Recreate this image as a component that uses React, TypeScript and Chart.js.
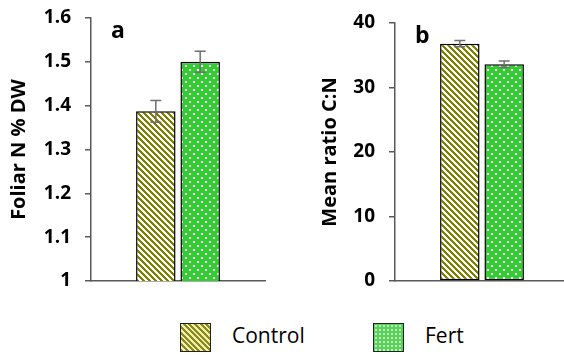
import React, { useEffect, useRef } from "react";
import { Chart, registerables } from "chart.js";

Chart.register(...registerables);

// ---- data ----
const seriesNames = ["Control", "Fert"];
const categoriesA = [""];
const foliarN = [1.387, 1.5];
const foliarNErr = [0.025, 0.024];
const cnRatio = [36.8, 33.6];
const cnRatioErr = [0.5, 0.5];
const yTicksA = [1, 1.1, 1.2, 1.3, 1.4, 1.5, 1.6];
const yTicksB = [0, 10, 20, 30, 40];

const OLIVE = "#7f7f00";
const GREEN = "#33cc33";
const AXIS = "#595959";
const FONT = "'Open Sans', 'DejaVu Sans', sans-serif";

function stripePattern(ctx: CanvasRenderingContext2D) {
  const t = document.createElement("canvas");
  t.width = 6;
  t.height = 6;
  const c = t.getContext("2d")!;
  c.fillStyle = "#ffffff";
  c.fillRect(0, 0, 6, 6);
  c.fillStyle = OLIVE;
  for (let x = 0; x < 6; x++)
    for (let y = 0; y < 6; y++) if ((x - y + 12) % 6 < 3) c.fillRect(x, y, 1, 1);
  return ctx.createPattern(t, "repeat")!;
}

function dotPattern(ctx: CanvasRenderingContext2D) {
  const t = document.createElement("canvas");
  t.width = 8;
  t.height = 8;
  const c = t.getContext("2d")!;
  c.fillStyle = GREEN;
  c.fillRect(0, 0, 8, 8);
  c.fillStyle = "#ffffff";
  c.fillRect(1, 1, 2, 2);
  c.fillRect(5, 5, 2, 2);
  return ctx.createPattern(t, "repeat")!;
}

type PanelProps = {
  values: number[];
  errs: number[];
  ticks: number[];
  title: string;
  label: string;
  left: number;
  width: number;
  padLeft: number;
  padTop: number;
  padRight: number;
  axisWidth: number;
  titlePad: number;
};

function Panel(p: PanelProps) {
  const ref = useRef<HTMLCanvasElement>(null);
  useEffect(() => {
    const canvas = ref.current!;
    const ctx = canvas.getContext("2d")!;
    const fills = [stripePattern(ctx), dotPattern(ctx)];
    const errPlugin = {
      id: "errbars",
      afterDatasetsDraw(chart: any) {
        const c = chart.ctx;
        const ys = chart.scales.y;
        c.save();
        c.strokeStyle = "#707070";
        c.lineWidth = 1.5;
        chart.data.datasets.forEach((ds: any, i: number) => {
          const meta = chart.getDatasetMeta(i);
          const bar = meta.data[0];
          const v = ds.data[0];
          const e = p.errs[i];
          const x = bar.x;
          const y1 = ys.getPixelForValue(v + e);
          const y2 = ys.getPixelForValue(v - e);
          c.beginPath();
          c.moveTo(x, y1);
          c.lineTo(x, y2);
          c.moveTo(x - 5.5, y1);
          c.lineTo(x + 5.5, y1);
          c.moveTo(x - 5.5, y2);
          c.lineTo(x + 5.5, y2);
          c.stroke();
        });
        c.restore();
      },
    };
    const labelPlugin = {
      id: "panelLabel",
      afterDraw(chart: any) {
        const c = chart.ctx;
        const a = chart.chartArea;
        c.save();
        c.fillStyle = "#000";
        c.font = `bold 23px ${FONT}`;
        c.textBaseline = "alphabetic";
        c.textAlign = "left";
        c.fillText(p.label, a.left + 20, a.top + 20);
        c.restore();
      },
    };
    const chart = new Chart(canvas, {
      type: "bar",
      data: {
        labels: categoriesA,
        datasets: seriesNames.map((n, i) => ({
          label: n,
          data: [p.values[i]],
          backgroundColor: fills[i] as any,
          borderColor: "#000",
          borderWidth: 1.5,
          borderSkipped: false,
          categoryPercentage: 0.51,
          barPercentage: 0.89,
        })),
      },
      options: {
        animation: false,
        responsive: false,
        maintainAspectRatio: false,
        events: [],
        layout: {
          padding: { left: p.padLeft, top: p.padTop, right: p.padRight, bottom: 19 },
        },
        plugins: { legend: { display: false }, tooltip: { enabled: false } },
        scales: {
          x: {
            grid: { display: false, drawTicks: false, tickLength: 0 },
            border: { display: true, color: AXIS, width: 1.5 },
            ticks: { display: false, padding: 0 },
            afterFit: (s: any) => {
              s.height = 0;
              s.paddingLeft = 0;
              s.paddingRight = 0;
            },
          },
          y: {
            min: p.ticks[0],
            max: p.ticks[p.ticks.length - 1],
            afterBuildTicks: (s: any) => {
              s.ticks = p.ticks.map((v) => ({ value: v }));
            },
            grid: {
              display: true,
              drawOnChartArea: false,
              drawTicks: true,
              tickLength: 6,
              color: AXIS,
              lineWidth: 1.5,
            },
            border: { display: true, color: AXIS, width: 1.5 },
            ticks: {
              padding: 14,
              color: "#000",
              font: { family: FONT, size: 19, weight: "bold" },
              callback: (v: any) => String(Math.round(Number(v) * 10) / 10),
            },
            title: {
              display: true,
              text: p.title,
              color: "#000",
              font: { family: FONT, size: 20, weight: "bold" },
              padding: { top: p.titlePad, bottom: 0 },
            },
            afterFit: (s: any) => {
              s.width = p.axisWidth;
              s.paddingTop = 0;
              s.paddingBottom = 0;
            },
          },
        },
      },
      plugins: [errPlugin, labelPlugin],
    });
    return () => chart.destroy();
  }, []);
  return (
    <canvas
      ref={ref}
      width={p.width}
      height={300}
      style={{ position: "absolute", left: p.left, top: 0, width: p.width, height: 300 }}
    />
  );
}

const legendText: React.CSSProperties = {
  position: "absolute",
  top: 320,
  fontFamily: FONT,
  fontSize: 21,
  lineHeight: "30px",
  color: "#000",
  whiteSpace: "nowrap",
};

export default function App() {
  return (
    <div
      style={{
        position: "absolute",
        left: 0,
        top: 0,
        width: 564,
        height: 355,
        overflow: "hidden",
        background: "#fff",
      }}
    >
      <Panel
        values={foliarN}
        errs={foliarNErr}
        ticks={yTicksA}
        title="Foliar N % DW"
        label="a"
        left={0}
        width={282}
        padLeft={0}
        padTop={18}
        padRight={17}
        axisWidth={91}
        titlePad={7}
      />
      <Panel
        values={cnRatio}
        errs={cnRatioErr}
        ticks={yTicksB}
        title="Mean ratio C:N"
        label="b"
        left={282}
        width={300}
        padLeft={28}
        padTop={23}
        padRight={13}
        axisWidth={85}
        titlePad={8}
      />
      <div
        style={{
          position: "absolute",
          left: 180,
          top: 323,
          width: 29,
          height: 27,
          border: "1.5px solid #222",
          backgroundColor: "#eeee99",
          backgroundImage: `repeating-linear-gradient(45deg, #8a8a20 0px, #8a8a20 2px, #f0f0a8 2px, #f0f0a8 4px)`,
        }}
      />
      <div style={{ ...legendText, left: 232 }}>{seriesNames[0]}</div>
      <div
        style={{
          position: "absolute",
          left: 373,
          top: 323,
          width: 29,
          height: 27,
          border: "1.5px solid #222",
          backgroundColor: "#55d455",
          backgroundImage: "radial-gradient(circle, #c8f2c8 0.9px, transparent 1.2px)",
          backgroundSize: "4px 4px",
        }}
      />
      <div style={{ ...legendText, left: 425 }}>{seriesNames[1]}</div>
    </div>
  );
}
